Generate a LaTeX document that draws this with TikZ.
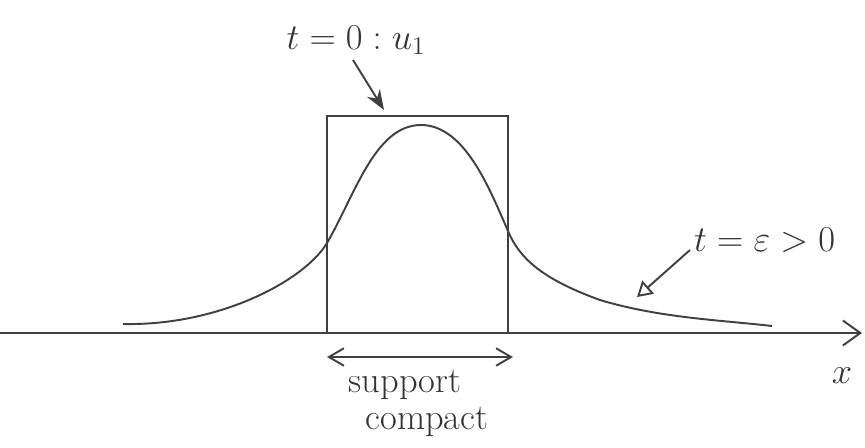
\documentclass[tikz,border=0pt]{standalone}
\usepackage{amsmath}
\usetikzlibrary{arrows.meta}

\begin{document}
\begin{tikzpicture}[x=0.02cm, y=-0.02cm, pen/.style={line width=1.1pt, draw=black!75}, axisarrow/.style={pen, -{Straight Barb[length=3.5mm, width=5mm]}}, pointer/.style={pen, -{Stealth[length=4mm, width=3mm]}}, tagarrow/.style={pen, -{Triangle[open, length=3mm, width=3.5mm]}}, span/.style={pen, {Straight Barb[length=3mm, width=3.5mm]}-{Straight Barb[length=3mm, width=3.5mm]}}, label/.style={font=\huge, text=black!80}, note/.style={font=\huge, text=black!80, align=center}]
\useasboundingbox (0,0) rectangle (865,447);

% axis and the initial datum (box)
\coordinate (origin) at (0,333); \coordinate (xend) at (862,333);
\draw[axisarrow] (origin) -- (xend);
\node[label] (xlbl) at (842,376) {$x$};
\draw[pen] (327,333) |- (508,116) -- (508,333);

% solution at a later time
\draw[pen] (123,324) .. controls (220,326) and (305,280) .. (327,243)
  .. controls (355,195) and (375,125) .. (421,125)
  .. controls (465,125) and (490,190) .. (508,231)
  .. controls (520,260) and (545,280) .. (600,300)
  .. controls (660,318) and (720,320) .. (772,326);

% labels
\node[label] (init) at (356,40) {$t=0 : u_1$};
\coordinate (inittip) at (384,110);
\draw[pointer] (353,60) -- (inittip);
\node[label, anchor=west] (later) at (688,240) {$t=\varepsilon>0$};
\coordinate (latertip) at (637,297);
\draw[tagarrow] (later.west) ++(2,10) -- (latertip);

% support
\coordinate (suppl) at (327,357); \coordinate (suppr) at (513,357);
\draw[span] (suppl) -- (suppr);
\node[note] (supp) at (405,403) {support\\[-4pt] \hspace{1.2em}compact};
\end{tikzpicture}
\end{document}
